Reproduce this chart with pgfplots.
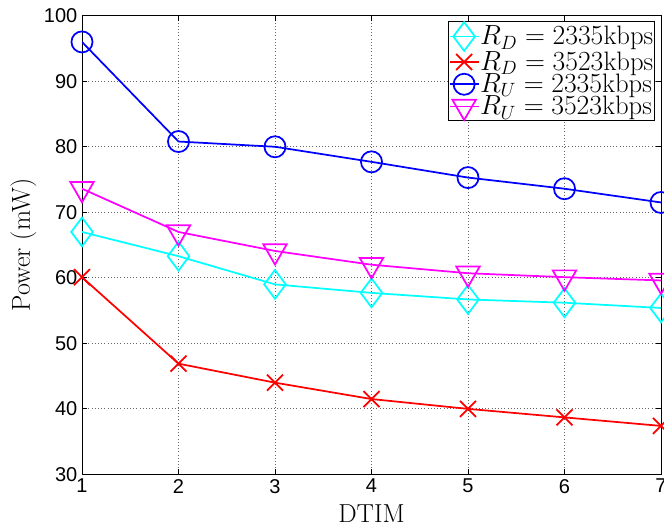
\documentclass[border=0pt]{standalone}
\usepackage{pgfplots}
\pgfplotsset{compat=1.18}
\usepackage{fontspec}
\newfontfamily\ticksans{Liberation Sans}
\definecolor{mcyan}{rgb}{0,1,1}
\definecolor{mred}{rgb}{1,0,0}
\definecolor{mblue}{rgb}{0,0,1}
\definecolor{mmagenta}{rgb}{1,0,1}
\begin{document}
\begin{tikzpicture}
\begin{axis}[
  name=ax,
  scale only axis,
  width=434.25pt, height=344pt,
  xmin=1, xmax=7, ymin=30, ymax=100,
  xtick={1,2,3,4,5,6,7},
  ytick={30,40,50,60,70,80,90,100},
  grid=major,
  major grid style={dotted, black!60, line width=0.6pt},
  axis line style={line width=0.6pt},
  major tick length=4pt,
  tick style={black, line width=0.6pt},
  /pgf/number format/assume math mode=true,
  tick label style={font=\ticksans\fontsize{15}{15}\selectfont},
  xlabel={DTIM},
  ylabel={Power (mW)},
  label style={font=\fontsize{19.5}{19.5}\selectfont},
  xlabel style={at={([yshift=-36pt]axis description cs:0.5,0)}, anchor=base},
  ylabel style={at={([xshift=-39pt]axis description cs:0,0.5)}, anchor=base},
  legend style={
    at={(rel axis cs:1,1)}, anchor=north east, xshift=-4.5pt, yshift=-4pt,
    font=\fontsize{20}{20}\selectfont,
    draw=black, line width=0.6pt, inner sep=0.5pt, row sep=0pt,
    nodes={inner sep=0.5pt},
  },
  legend cell align=left,
  legend image code/.code={
    \draw[mark repeat=2, mark phase=2] plot coordinates {(0cm,0cm) (0.38cm,0cm) (0.76cm,0cm)};
  },
]
\addplot[mcyan, line width=1.3pt, mark=diamond, mark size=10.8pt, mark options={solid}]
  coordinates {(1,67.0) (2,63.3) (3,59.0) (4,57.7) (5,56.7) (6,56.2) (7,55.4)};
\addlegendentry{$R_D = 2335$kbps}
\addplot[mred, line width=1.3pt, mark=x, mark size=8.5pt]
  coordinates {(1,60.1) (2,46.9) (3,44.0) (4,41.5) (5,40.0) (6,38.7) (7,37.4)};
\addlegendentry{$R_D = 3523$kbps}
\addplot[mblue, line width=1.3pt, mark=o, mark size=7.9pt]
  coordinates {(1,96.0) (2,80.8) (3,80.0) (4,77.7) (5,75.3) (6,73.6) (7,71.5)};
\addlegendentry{$R_U = 2335$kbps}
\addplot[mmagenta, line width=1.3pt, mark=triangle, mark size=10.2pt, mark options={rotate=180}]
  coordinates {(1,73.6) (2,67.0) (3,64.1) (4,62.0) (5,60.7) (6,60.1) (7,59.6)};
\addlegendentry{$R_U = 3523$kbps}
\end{axis}
\pgfresetboundingbox
\path ([xshift=-61.5pt,yshift=-38.8pt]ax.south west) rectangle ([xshift=2.25pt,yshift=11.8pt]ax.north east);
\end{tikzpicture}
\end{document}
